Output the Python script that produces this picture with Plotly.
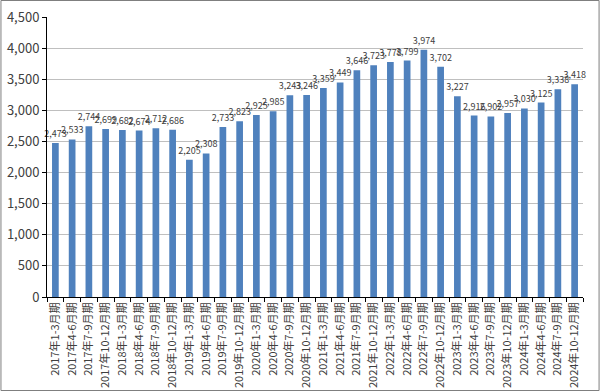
import plotly.graph_objects as go

categories = [
    "2017年1-3月期", "2017年4-6月期", "2017年7-9月期", "2017年10-12月期",
    "2018年1-3月期", "2018年4-6月期", "2018年7-9月期", "2018年10-12月期",
    "2019年1-3月期", "2019年4-6月期", "2019年7-9月期", "2019年10-12月期",
    "2020年1-3月期", "2020年4-6月期", "2020年7-9月期", "2020年10-12月期",
    "2021年1-3月期", "2021年4-6月期", "2021年7-9月期", "2021年10-12月期",
    "2022年1-3月期", "2022年4-6月期", "2022年7-9月期", "2022年10-12月期",
    "2023年1-3月期", "2023年4-6月期", "2023年7-9月期", "2023年10-12月期",
    "2024年1-3月期", "2024年4-6月期", "2024年7-9月期", "2024年10-12月期",
]
values = [
    2473, 2533, 2744, 2699, 2682, 2674, 2712, 2686,
    2205, 2308, 2733, 2823, 2925, 2985, 3243, 3246,
    3359, 3449, 3646, 3723, 3778, 3799, 3974, 3702,
    3227, 2916, 2902, 2957, 3030, 3125, 3338, 3418,
]
y_ticks = [0, 500, 1000, 1500, 2000, 2500, 3000, 3500, 4000, 4500]

font_family = "Noto Sans CJK JP, DejaVu Sans, sans-serif"

fig = go.Figure(go.Bar(
    x=categories,
    y=values,
    marker=dict(color="#4f81bd", line=dict(width=0)),
    text=[f"{v:,}" for v in values],
    textposition="outside",
    constraintext="none",
    textfont=dict(size=9, color="#404040", family=font_family),
    cliponaxis=False,
))

plot_l, plot_r, plot_t, plot_b = 46.6, 583.4, 17, 297
W, H = 600, 391
pw, ph = plot_r - plot_l, plot_b - plot_t

fig.update_layout(
    width=W, height=H,
    margin=dict(l=plot_l, r=W - plot_r, t=plot_t, b=H - plot_b, autoexpand=False),
    paper_bgcolor="white",
    plot_bgcolor="white",
    bargap=0.6,
    showlegend=False,
    font=dict(family=font_family, color="#404040"),
    shapes=[dict(
        type="rect", xref="paper", yref="paper",
        x0=(0.5 - plot_l) / pw, x1=(W - 0.5 - plot_l) / pw,
        y0=(plot_b - (H - 0.5)) / ph, y1=(plot_b - 0.5) / ph,
        line=dict(color="#7f7f7f", width=1),
        layer="below",
    )],
)
fig.update_xaxes(
    type="category",
    tickangle=-90,
    tickfont=dict(size=11, color="#404040"),
    showline=True, linecolor="black", linewidth=1,
    ticks="outside", ticklen=4, tickcolor="black",
    tickson="boundaries",
    showgrid=False,
)
fig.update_yaxes(
    range=[0, 4500],
    tickvals=y_ticks,
    tickformat=",",
    tickfont=dict(size=13, color="#404040"),
    showline=True, linecolor="black", linewidth=1,
    ticks="outside", ticklen=4, tickcolor="black",
    showgrid=True, gridcolor="#bfbfbf", gridwidth=1,
    zeroline=False,
)

fig.write_html(
    "out.html",
    config={"displayModeBar": False},
    post_script="document.body.style.margin='0';document.body.style.overflow='hidden';",
)
